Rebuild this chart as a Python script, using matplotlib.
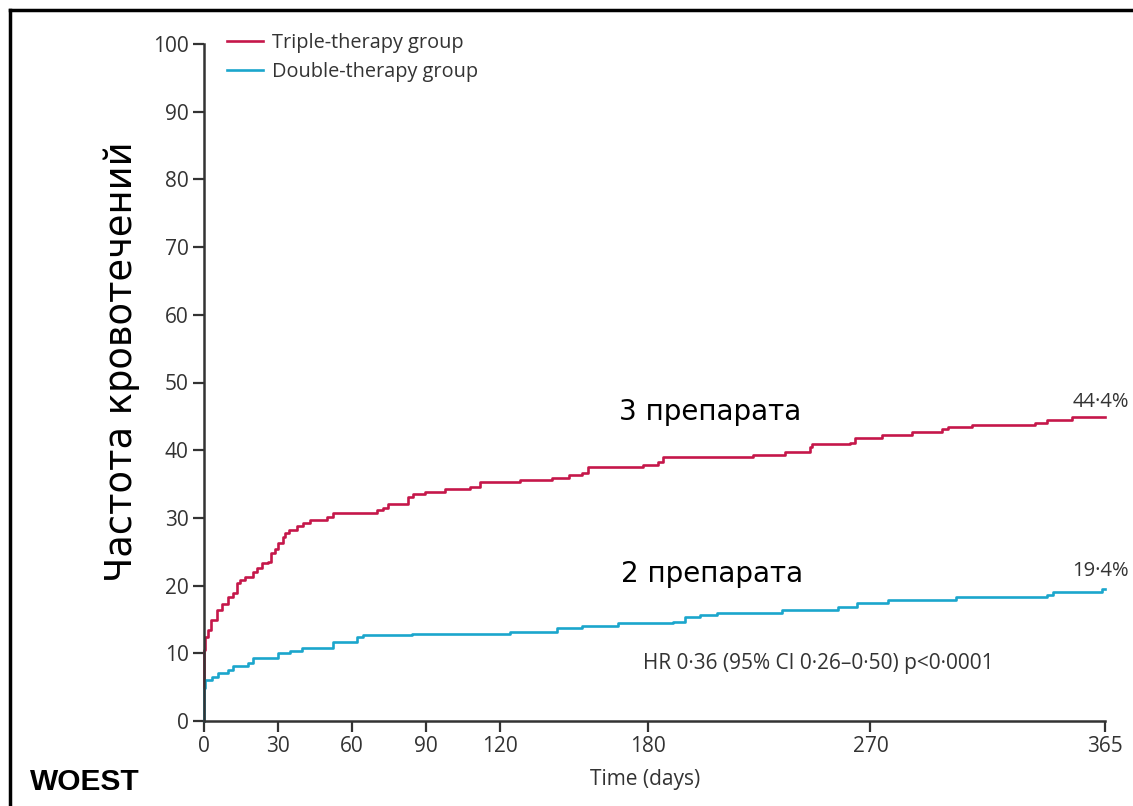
import matplotlib
matplotlib.use("Agg")
import matplotlib.pyplot as plt
from matplotlib.lines import Line2D

# ---- data ----
triple_days = [0, 0, 0.4, 1.6, 2.8, 5.3, 7.3, 9.7, 11.8, 13.4, 14.6, 16.6, 19.9, 21.5, 23.5,
               25.9, 27.1, 28.8, 30.0, 32.0, 32.8, 34.4, 37.7, 40.1, 43.0, 49.8, 52.3, 70.1,
               72.5, 74.6, 82.7, 84.7, 89.5, 97.7, 107.8, 111.8, 128.0, 141.0, 147.9, 153.2,
               155.6, 177.9, 183.9, 186.0, 222.4, 235.4, 245.5, 246.4, 261.8, 263.8, 274.7,
               286.9, 299.0, 301.5, 311.2, 336.7, 341.6, 351.7, 365]
triple_rate = [4.9, 10.5, 12.4, 13.4, 14.9, 16.4, 17.3, 18.3, 18.9, 20.4, 20.8, 21.3, 22.0, 22.6, 23.3,
               23.5, 24.8, 25.4, 26.3, 27.2, 27.8, 28.2, 28.8, 29.2, 29.7, 30.2, 30.7, 31.2,
               31.5, 32.1, 33.1, 33.5, 33.8, 34.3, 34.6, 35.3, 35.6, 35.9, 36.3, 36.6,
               37.5, 37.8, 38.3, 39.0, 39.3, 39.7, 40.5, 40.9, 41.1, 41.8, 42.2,
               42.7, 43.1, 43.4, 43.7, 44.0, 44.5, 44.9, 44.9]

double_days = [0, 0.2, 0.4, 3.2, 5.7, 9.7, 11.8, 17.8, 19.9, 30.0, 34.8, 39.7, 52.3, 62.0, 64.4,
               84.3, 124.0, 143.0, 153.2, 167.7, 190.0, 194.9, 201.0, 207.9, 234.2, 256.9,
               264.6, 277.1, 304.7, 341.6, 344.0, 363.9, 365]
double_rate = [0, 4.9, 6.0, 6.5, 7.1, 7.5, 8.1, 8.5, 9.3, 10.0, 10.4, 10.8, 11.7, 12.4, 12.7,
               12.9, 13.2, 13.7, 14.0, 14.5, 14.6, 15.4, 15.7, 16.0, 16.4, 16.8,
               17.4, 17.9, 18.3, 18.6, 19.1, 19.5, 19.5]

x_ticks = [0, 30, 60, 90, 120, 180, 270, 365]
y_ticks = [0, 10, 20, 30, 40, 50, 60, 70, 80, 90, 100]
series_labels = ["Triple-therapy group", "Double-therapy group"]
end_labels = ["44·4%", "19·4%"]
end_values = [44.4, 19.4]
group_names = ["3 препарата", "2 препарата"]
stat_text = "HR 0·36 (95% CI 0·26–0·50) p<0·0001"

RED = "#c5174a"
BLUE = "#1ba6cc"
GRAY = "#333333"
LF = ["Open Sans", "DejaVu Sans"]

fig = plt.figure(figsize=(11.33, 8.06), dpi=100)
ax = fig.add_axes([204/1133, 1-721/806, (1105-204)/1133, (721-44)/806])

ax.step(triple_days, triple_rate, where="post", color=RED, lw=1.9, clip_on=False, label=series_labels[0])
ax.step(double_days, double_rate, where="post", color=BLUE, lw=1.9, clip_on=False, label=series_labels[1])

ax.set_xlim(0, 365)
ax.set_ylim(0, 100)
ax.set_xticks(x_ticks)
ax.set_yticks(y_ticks)
for s in ["top", "right"]:
    ax.spines[s].set_visible(False)
for s in ["left", "bottom"]:
    ax.spines[s].set_color(GRAY)
    ax.spines[s].set_linewidth(1.8)
ax.tick_params(axis="both", colors=GRAY, length=8, width=1.6, labelsize=15, pad=3)
for lab in ax.get_xticklabels() + ax.get_yticklabels():
    lab.set_family(LF)

leg = ax.legend(loc="upper left", bbox_to_anchor=(0.006, 1.042), frameon=False,
                prop={"family": LF, "size": 14.3}, handlelength=1.8, handletextpad=0.45,
                labelspacing=0.45)
for t in leg.get_texts():
    t.set_color(GRAY)

ax.text(374.8, end_values[0] + 1.3, end_labels[0], ha="right", va="bottom", fontsize=14.5,
        color=GRAY, family=LF, clip_on=False)
ax.text(374.8, end_values[1] + 1.3, end_labels[1], ha="right", va="bottom", fontsize=14.5,
        color=GRAY, family=LF, clip_on=False)

ax.text(205, 45.6, group_names[0], ha="center", va="center", fontsize=20, color="black",
        family="DejaVu Sans")
ax.text(206, 21.7, group_names[1], ha="center", va="center", fontsize=20, color="black",
        family="DejaVu Sans")
ax.text(178, 8.5, stat_text, ha="left", va="center", fontsize=15, color=GRAY, family=LF)

fig.text(645/1133, 1-780/806, "Time (days)", ha="center", va="center", fontsize=15,
         color=GRAY, family=LF)
fig.text(121/1133, 1-362/806, "Частота кровотечений", rotation=90, ha="center", va="center",
         fontsize=26.5, color="black", family="DejaVu Sans")
fig.text(30/1133, 1-782/806, "WOEST", ha="left", va="center", fontsize=21.5, fontweight="bold",
         color="black", family=["Liberation Sans", "DejaVu Sans"])

# outer frame (top and left edges visible)
fig.add_artist(Line2D([10/1133, 10/1133], [0, 1-10/806], transform=fig.transFigure,
                      color="black", lw=2.5))
fig.add_artist(Line2D([10/1133, 1], [1-10/806, 1-10/806], transform=fig.transFigure,
                      color="black", lw=2.5))

fig.savefig("out.png", dpi=100)
